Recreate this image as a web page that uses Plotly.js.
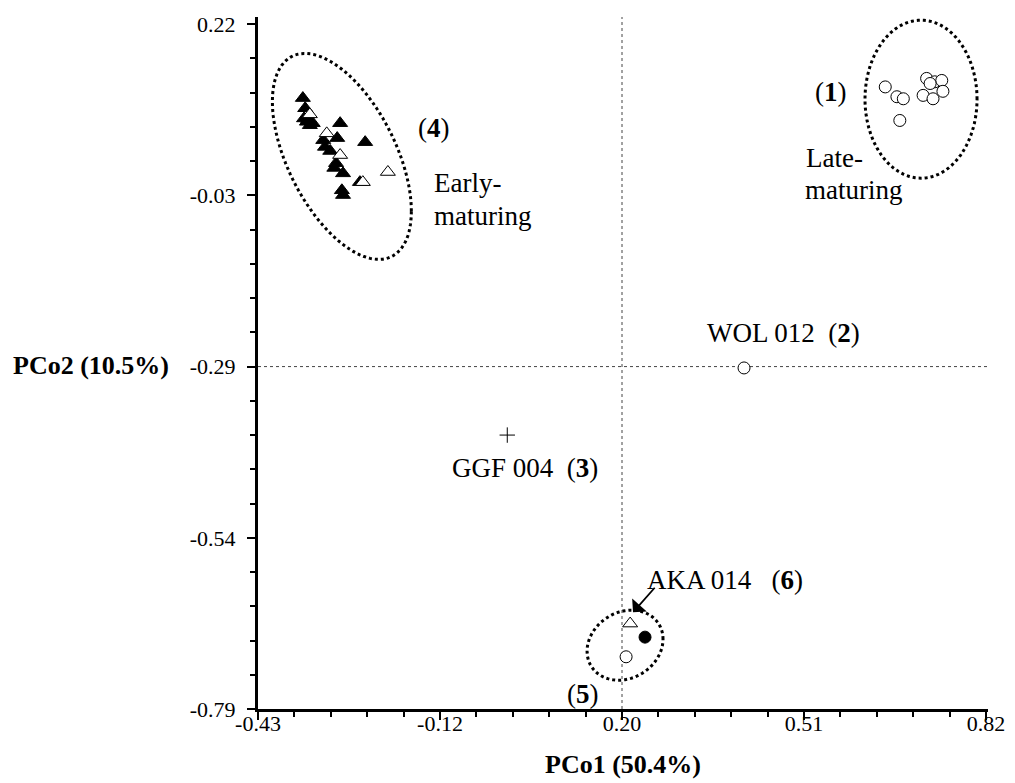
<!DOCTYPE html>
<html>
<head>
<meta charset="utf-8">
<script src="https://cdn.plot.ly/plotly-3.0.1.min.js"></script>
<style>html,body{margin:0;padding:0;background:#fff;}</style>
</head>
<body>
<div id="chart" style="width:1015px;height:783px;"></div>
<script>
// ---- Data ----
// Group 4: early-maturing (filled triangles)
const earlyFilledX = [-0.353, -0.349, -0.351, -0.346, -0.336, -0.341, -0.344, -0.289, -0.246, -0.294, -0.318, -0.315, -0.306, -0.296, -0.299, -0.284, -0.286, -0.284, -0.255];
const earlyFilledY = [0.111, 0.096, 0.081, 0.076, 0.074, 0.071, 0.079, 0.074, 0.046, 0.052, 0.049, 0.039, 0.033, 0.015, 0.008, 0.000, -0.025, -0.032, -0.013];
// Group 4: early-maturing (open triangles)
const earlyOpenX = [-0.341, -0.312, -0.289, -0.250, -0.207];
const earlyOpenY = [0.087, 0.059, 0.027, -0.013, 0.002];
// Group 1: late-maturing (open circles)
const lateX = [0.647, 0.667, 0.678, 0.672, 0.718, 0.732, 0.744, 0.724, 0.712, 0.729, 0.746];
const lateY = [0.1275, 0.113, 0.110, 0.078, 0.140, 0.135, 0.137, 0.1325, 0.115, 0.110, 0.121];
// Group 2: WOL 012
const wolX = [0.4045];
const wolY = [-0.287];
// Group 3: GGF 004
const ggfX = [-0.002];
const ggfY = [-0.386];
// Group 5 / 6
const g5OpenTriX = [0.209];
const g5OpenTriY = [-0.664];
const g5FilledCircX = [0.2345];
const g5FilledCircY = [-0.684];
const g5OpenCircX = [0.202];
const g5OpenCircY = [-0.713];

// Tick labels
const xTickVals = [-0.43, -0.1175, 0.195, 0.5075, 0.82];
const xTickText = ['-0.43', '-0.12', '0.20', '0.51', '0.82'];
const yTickVals = [0.22, -0.0325, -0.285, -0.5375, -0.79];
const yTickText = ['0.22', '-0.03', '-0.29', '-0.54', '-0.79'];

const FONT = 'Liberation Serif, Times New Roman, serif';

function ellipsePath(cx, cy, A, B, C) {
  let d = '';
  const n = 120;
  for (let i = 0; i <= n; i++) {
    const t = 2 * Math.PI * i / n;
    const x = cx + A * Math.cos(t);
    const y = cy + B * Math.cos(t) + C * Math.sin(t);
    d += (i === 0 ? 'M' : 'L') + x.toFixed(5) + ',' + y.toFixed(5);
  }
  return d + 'Z';
}

const openTri = {symbol: 'triangle-up', size: 13, color: '#fff', line: {color: '#000', width: 1}};
const fillTri = {symbol: 'triangle-up', size: 13, color: '#000', line: {color: '#000', width: 1}};
const openCirc = {symbol: 'circle', size: 12, color: '#fff', line: {color: '#000', width: 1}};

const traces = [
  {x: earlyFilledX, y: earlyFilledY, type: 'scatter', mode: 'markers', marker: fillTri, name: 'Early (filled)'},
  {x: earlyOpenX, y: earlyOpenY, type: 'scatter', mode: 'markers', marker: openTri, name: 'Early (open)'},
  {x: lateX, y: lateY, type: 'scatter', mode: 'markers', marker: openCirc, name: 'Late'},
  {x: wolX, y: wolY, type: 'scatter', mode: 'markers', marker: openCirc, name: 'WOL 012'},
  {x: ggfX, y: ggfY, type: 'scatter', mode: 'markers', marker: {symbol: 'cross-thin', size: 11, color: '#000', line: {color: '#000', width: 1}}, name: 'GGF 004'},
  {x: g5OpenTriX, y: g5OpenTriY, type: 'scatter', mode: 'markers', marker: openTri, name: 'AKA 014'},
  {x: g5FilledCircX, y: g5FilledCircY, type: 'scatter', mode: 'markers', marker: {symbol: 'circle', size: 12, color: '#000', line: {color: '#000', width: 1}}, name: 'G5 filled'},
  {x: g5OpenCircX, y: g5OpenCircY, type: 'scatter', mode: 'markers', marker: openCirc, name: 'G5 open'}
];

const dotted = {color: '#000', width: 3, dash: 'dot'};
const shapes = [
  {type: 'line', xref: 'x', yref: 'paper', x0: 0.195, x1: 0.195, y0: 0, y1: 1, line: {color: '#444', width: 1, dash: 'dot'}, layer: 'below'},
  {type: 'line', xref: 'paper', yref: 'y', x0: 0, x1: 1, y0: -0.285, y1: -0.285, line: {color: '#444', width: 1, dash: 'dot'}, layer: 'below'},
  {type: 'path', xref: 'x', yref: 'y', path: ellipsePath(-0.286, 0.025, 0.1193, -0.0808, 0.1286), line: dotted},
  {type: 'path', xref: 'x', yref: 'y', path: ellipsePath(0.7084, 0.1094, 0.0962, 0.0, 0.1165), line: dotted},
  {type: 'path', xref: 'x', yref: 'y', path: ellipsePath(0.2002, -0.6959, 0.0652, 0.00885, 0.0509), line: dotted}
];

const tf = {family: FONT, size: 27, color: '#000'};
function lab(text, x, y, extra) {
  return Object.assign({text: text, x: x, y: y, xref: 'x', yref: 'y', showarrow: false, font: tf, xanchor: 'center', yanchor: 'middle'}, extra || {});
}
const L = {xanchor: 'left', align: 'left'};
const annotations = [
  lab('(<b>1</b>)', 0.554, 0.1197),
  lab('Late-', 0.508, 0.0224, L),
  lab('maturing', 0.505, -0.0248, L),
  lab('(<b>4</b>)', -0.128, 0.0666),
  lab('Early-', -0.131, -0.0145, L),
  lab('maturing', -0.131, -0.0632, L),
  lab('WOL 012  (<b>2</b>)', 0.473, -0.2358),
  lab('GGF 004  (<b>3</b>)', 0.0284, -0.435),
  lab('AKA 014   (<b>6</b>)', 0.372, -0.600),
  lab('(<b>5</b>)', 0.128, -0.768),
  {text: '', x: 0.2139, y: -0.6473, xref: 'x', yref: 'y', showarrow: true, ax: 23, ay: -26, arrowhead: 1, arrowsize: 1.8, arrowwidth: 1.8, arrowcolor: '#000'},
  {text: '<b>PCo2 (10.5%)</b>', xref: 'paper', yref: 'paper', x: -0.2288, y: 0.4957, showarrow: false, xanchor: 'center', yanchor: 'middle', font: {family: FONT, size: 26, color: '#000'}}
];

const axisCommon = {
  showgrid: false, zeroline: false, showline: true, linecolor: '#000', linewidth: 3,
  ticks: 'outside', ticklen: 8, tickwidth: 2, tickcolor: '#000',
  tickfont: {family: FONT, size: 22, color: '#000'}, tickmode: 'array'
};

const layout = {
  width: 1015, height: 783,
  margin: {l: 258, r: 27, t: 17, b: 74},
  paper_bgcolor: '#fff', plot_bgcolor: '#fff',
  showlegend: false,
  font: {family: FONT, color: '#000'},
  xaxis: Object.assign({}, axisCommon, {
    range: [-0.43, 0.8234], tickvals: xTickVals, ticktext: xTickText,
    ticklabelstandoff: -15,
    minor: {tick0: -0.43, dtick: 0.0625, ticks: 'outside', ticklen: 5, tickwidth: 2, tickcolor: '#000'},
    title: {text: '<b>PCo1 (50.4%)</b>', font: {family: FONT, size: 26, color: '#000'}, standoff: 20}
  }),
  yaxis: Object.assign({}, axisCommon, {
    range: [-0.79, 0.2306], tickvals: yTickVals, ticktext: yTickText,
    ticklabelstandoff: 7,
    minor: {tick0: 0.22, dtick: 0.0505, ticks: 'outside', ticklen: 5, tickwidth: 2, tickcolor: '#000'}
  }),
  shapes: shapes,
  annotations: annotations
};

Plotly.newPlot('chart', traces, layout, {displayModeBar: false, staticPlot: true});
</script>
</body>
</html>
